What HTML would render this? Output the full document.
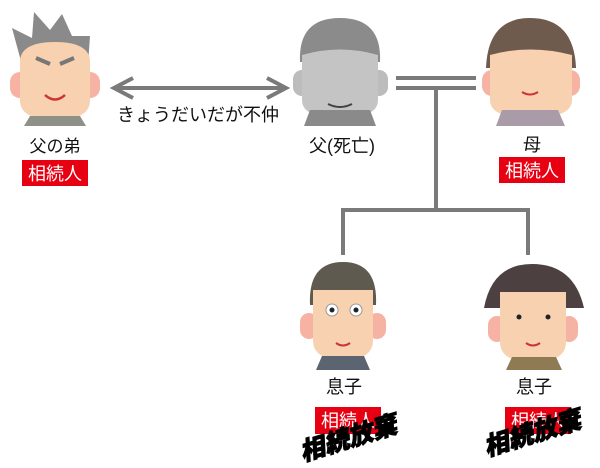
<!DOCTYPE html>
<html><head><meta charset="utf-8"><style>
html,body{margin:0;padding:0;background:#fff;width:600px;height:468px;overflow:hidden}
text{font-family:"Liberation Sans","Noto Sans CJK JP",sans-serif}
</style></head><body>
<svg width="600" height="468" viewBox="0 0 600 468" xmlns="http://www.w3.org/2000/svg">
<g stroke="#7a7a7a" stroke-width="4" fill="none">
<line x1="114" y1="88" x2="286" y2="88"/>
<polyline points="133,78 114,88 133,98"/>
<polyline points="267,78 286,88 267,98"/>
<line x1="396" y1="78" x2="476" y2="78"/>
<line x1="396" y1="88" x2="476" y2="88"/>
<line x1="436" y1="88" x2="436" y2="210"/>
<polyline points="343,255 343,210 528,210 528,255"/>
</g>
<!-- uncle -->
<g>
<path d="M22 65 L12 28 L32 38 L34 12 L50 30 L62 14 L72 36 L90 36 L88 65 Z" fill="#8a8a8a"/>
<rect x="10" y="72" width="20" height="26" rx="10" fill="#f6b3a3"/>
<rect x="80" y="72" width="20" height="26" rx="10" fill="#f6b3a3"/>
<path d="M20 60 Q22 42 55 42 Q88 42 90 60 L90 100 Q90 120 55 120 Q20 120 20 100 Z" fill="#f8d1b0"/>
<path d="M30 116 L80 116 L86 126 L24 126 Z" fill="#8f9189"/>
<path d="M36 58 L50 64 M74 58 L60 64" stroke="#777" stroke-width="4"/>
<path d="M45 95 Q55 104 65 95" stroke="#c33" stroke-width="2.5" fill="none"/>
<text x="55" y="152" font-size="17" text-anchor="middle" fill="#111">父の弟</text>
<rect x="22" y="160" width="66" height="26" fill="#e60012"/>
<text x="55" y="180" font-size="18" text-anchor="middle" fill="#fff">相続人</text>
</g>
<text x="198" y="121" font-size="18" text-anchor="middle" fill="#111">きょうだいだが不仲</text>
<!-- father -->
<g>
<path d="M300 62 Q298 18 340 18 Q382 18 380 62 Z" fill="#8b8b8b"/>
<rect x="293" y="70" width="18" height="26" rx="9" fill="#bcbcbc"/>
<rect x="370" y="70" width="18" height="26" rx="9" fill="#bcbcbc"/>
<path d="M302 55 Q340 44 378 55 L378 100 Q378 118 340 118 Q302 118 302 100 Z" fill="#c4c4c4"/>
<path d="M310 110 L370 110 L376 126 L304 126 Z" fill="#8a8a8a"/>
<path d="M328 104 Q340 110 352 104" stroke="#444" stroke-width="2" fill="none"/>
<text x="342" y="152" font-size="18" text-anchor="middle" fill="#111">父(死亡)</text>
</g>
<!-- mother -->
<g>
<path d="M486 68 Q488 18 530 18 Q574 18 576 68 Z" fill="#6f5a4e"/>
<rect x="482" y="70" width="20" height="26" rx="10" fill="#f6b3a3"/>
<rect x="560" y="70" width="20" height="26" rx="10" fill="#f6b3a3"/>
<path d="M490 55 Q530 44 572 55 L572 100 Q572 118 530 118 Q490 118 490 100 Z" fill="#f8d1b0"/>
<path d="M502 110 L558 110 L565 126 L496 126 Z" fill="#a99ba8"/>
<path d="M522 92 Q530 97 538 92" stroke="#c33" stroke-width="2" fill="none"/>
<text x="532" y="151" font-size="18" text-anchor="middle" fill="#111">母</text>
<rect x="499" y="157" width="66" height="26" fill="#e60012"/>
<text x="532" y="177" font-size="18" text-anchor="middle" fill="#fff">相続人</text>
</g>
<!-- son1 -->
<g>
<path d="M310 305 Q308 262 343 262 Q378 262 376 305 Z" fill="#5f5a50"/>
<rect x="300" y="313" width="18" height="26" rx="9" fill="#f6b3a3"/>
<rect x="368" y="313" width="18" height="26" rx="9" fill="#f6b3a3"/>
<path d="M313 290 L373 290 L373 340 Q373 360 343 360 Q313 360 313 340 Z" fill="#f8d1b0"/>
<circle cx="332" cy="310" r="6" fill="#fff" stroke="#999"/><circle cx="356" cy="310" r="6" fill="#fff" stroke="#999"/>
<circle cx="332" cy="310" r="2.5" fill="#222"/><circle cx="356" cy="310" r="2.5" fill="#222"/>
<path d="M336 343 Q343 348 350 343" stroke="#c33" stroke-width="2" fill="none"/>
<path d="M322 356 L364 356 L370 370 L316 370 Z" fill="#5b6470"/>
<text x="344" y="393" font-size="18" text-anchor="middle" fill="#111">息子</text>
<rect x="315" y="407" width="66" height="27" fill="#e60012"/>
<text x="348" y="427" font-size="18" text-anchor="middle" fill="#fff">相続人</text>
<text x="348" y="447" font-size="25" font-weight="900" font-style="italic" text-anchor="middle" fill="#000" stroke="#000" stroke-width="0.8" transform="rotate(-17 348 438)">相続放棄</text>
</g>
<!-- son2 -->
<g>
<path d="M484 308 Q492 264 532 264 Q574 264 584 308 Z" fill="#4d4040"/>
<rect x="488" y="316" width="18" height="26" rx="9" fill="#f6b3a3"/>
<rect x="560" y="316" width="18" height="26" rx="9" fill="#f6b3a3"/>
<path d="M500 292 L566 292 L566 342 Q566 362 533 362 Q500 362 500 342 Z" fill="#f8d1b0"/>
<circle cx="519" cy="317" r="2.5" fill="#222"/><circle cx="548" cy="317" r="2.5" fill="#222"/>
<path d="M526 343 Q533 348 540 343" stroke="#c33" stroke-width="2" fill="none"/>
<path d="M512 357 L556 357 L562 370 L506 370 Z" fill="#8e7a53"/>
<text x="534" y="393" font-size="18" text-anchor="middle" fill="#111">息子</text>
<rect x="505" y="407" width="66" height="27" fill="#e60012"/>
<text x="538" y="427" font-size="18" text-anchor="middle" fill="#fff">相続人</text>
<text x="532" y="442" font-size="25" font-weight="900" font-style="italic" text-anchor="middle" fill="#000" stroke="#000" stroke-width="0.8" transform="rotate(-17 532 433)">相続放棄</text>
</g>
</svg>
</body></html>
